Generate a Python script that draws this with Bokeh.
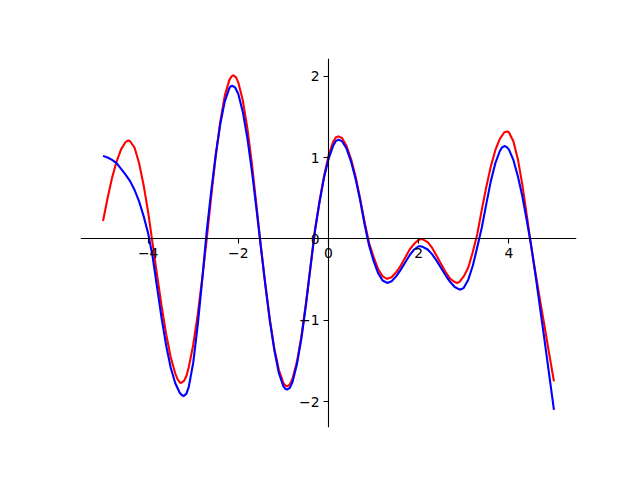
from bokeh.plotting import figure
from bokeh.models import Range1d, FixedTicker
from bokeh.embed import file_html
from bokeh.resources import INLINE

# Red curve
red_x = [-5.0, -4.9, -4.8, -4.7, -4.6, -4.5, -4.44, -4.4, -4.3, -4.2, -4.1, -4.0,
         -3.9, -3.8, -3.7, -3.6, -3.5, -3.4, -3.35, -3.3, -3.27, -3.2, -3.15, -3.1, -3.0,
         -2.9, -2.8, -2.7, -2.6, -2.5, -2.4, -2.3, -2.2, -2.15, -2.11, -2.05, -2.0,
         -1.9, -1.8, -1.7, -1.6, -1.5, -1.4, -1.3, -1.2, -1.1, -1.0, -0.96, -0.92, -0.86,
         -0.8, -0.7, -0.6, -0.5, -0.4, -0.3, -0.2, -0.1, 0.0, 0.1, 0.16, 0.22,
         0.3, 0.4, 0.5, 0.6, 0.7, 0.8, 0.9, 1.0, 1.1, 1.2, 1.3,
         1.4, 1.5, 1.6, 1.7, 1.8, 1.9, 2.0, 2.07, 2.2, 2.3, 2.4, 2.5,
         2.6, 2.7, 2.8, 2.85, 2.9, 3.0, 3.1, 3.2, 3.3, 3.4, 3.5, 3.6,
         3.7, 3.8, 3.9, 3.96, 4.0, 4.1, 4.2, 4.3, 4.4, 4.5, 4.6, 4.7,
         4.8, 4.9, 5.0]
red_y = [0.22, 0.50, 0.75, 0.95, 1.10, 1.19, 1.21, 1.20, 1.12, 0.93, 0.66, 0.33,
         -0.06, -0.45, -0.83, -1.17, -1.45, -1.65, -1.72, -1.76, -1.77, -1.74, -1.68, -1.58, -1.30,
         -0.93, -0.48, 0.0, 0.53, 1.02, 1.44, 1.76, 1.95, 1.995, 2.01, 1.985, 1.92,
         1.70, 1.36, 0.93, 0.42, -0.09, -0.56, -0.99, -1.35, -1.61, -1.77, -1.80, -1.81, -1.79,
         -1.72, -1.51, -1.19, -0.79, -0.34, 0.11, 0.46, 0.77, 1.02, 1.19, 1.245, 1.26,
         1.24, 1.14, 0.98, 0.77, 0.50, 0.21, -0.05, -0.22, -0.37, -0.46, -0.49,
         -0.47, -0.41, -0.33, -0.23, -0.13, -0.06, -0.01, 0.0, -0.04, -0.11, -0.21, -0.31,
         -0.41, -0.49, -0.53, -0.54, -0.53, -0.46, -0.35, -0.16, 0.06, 0.36, 0.64, 0.89,
         1.09, 1.23, 1.31, 1.32, 1.31, 1.20, 0.98, 0.66, 0.28, -0.11, -0.45, -0.78,
         -1.10, -1.43, -1.75]

# Blue curve
blue_x = [-5.0, -4.9, -4.8, -4.7, -4.6, -4.5, -4.4, -4.3, -4.2, -4.1, -4.0,
          -3.9, -3.8, -3.7, -3.6, -3.5, -3.4, -3.3, -3.25, -3.21, -3.15, -3.1, -3.0,
          -2.9, -2.8, -2.7, -2.6, -2.5, -2.4, -2.3, -2.2, -2.17, -2.13, -2.07, -2.0,
          -1.9, -1.8, -1.7, -1.6, -1.5, -1.4, -1.3, -1.2, -1.1, -1.0, -0.96, -0.92, -0.86,
          -0.8, -0.7, -0.6, -0.5, -0.4, -0.3, -0.2, -0.1, 0.0, 0.1, 0.16, 0.22,
          0.3, 0.4, 0.5, 0.6, 0.7, 0.8, 0.9, 1.0, 1.1, 1.2, 1.3,
          1.4, 1.5, 1.6, 1.7, 1.8, 1.9, 2.0, 2.04, 2.1, 2.2, 2.3, 2.4, 2.5,
          2.6, 2.7, 2.8, 2.9, 2.94, 3.0, 3.1, 3.2, 3.3, 3.4, 3.5, 3.6,
          3.7, 3.8, 3.85, 3.9, 3.95, 4.0, 4.1, 4.2, 4.3, 4.4, 4.5, 4.6, 4.7,
          4.8, 4.9, 5.0]
blue_y = [1.02, 1.00, 0.97, 0.93, 0.86, 0.79, 0.71, 0.60, 0.46, 0.28, 0.07,
          -0.22, -0.60, -0.98, -1.31, -1.58, -1.77, -1.89, -1.92, -1.93, -1.90, -1.82, -1.52,
          -1.06, -0.50, 0.10, 0.59, 1.04, 1.41, 1.69, 1.85, 1.875, 1.88, 1.86, 1.78,
          1.56, 1.24, 0.84, 0.38, -0.10, -0.57, -1.01, -1.37, -1.65, -1.81, -1.84, -1.85, -1.83,
          -1.76, -1.54, -1.22, -0.81, -0.35, 0.10, 0.45, 0.75, 0.98, 1.14, 1.20, 1.22,
          1.20, 1.11, 0.95, 0.74, 0.48, 0.18, -0.08, -0.27, -0.42, -0.51, -0.54,
          -0.52, -0.46, -0.38, -0.29, -0.20, -0.13, -0.09, -0.09, -0.10, -0.13, -0.19, -0.27, -0.36,
          -0.45, -0.53, -0.59, -0.62, -0.62, -0.60, -0.50, -0.33, -0.10, 0.14, 0.43, 0.71,
          0.93, 1.08, 1.125, 1.14, 1.13, 1.10, 0.97, 0.77, 0.52, 0.22, -0.10, -0.48, -0.88,
          -1.28, -1.69, -2.10]

x_ticks = [-4, -2, 0, 2, 4]
y_ticks = [-2, -1, 0, 1, 2]

p = figure(width=624, height=464, frame_width=496, frame_height=369,
           min_border_left=80, min_border_right=48, min_border_top=58, min_border_bottom=37,
           x_range=Range1d(-5.5, 5.5), y_range=Range1d(-2.316, 2.216),
           output_backend="svg", toolbar_location=None)
p.outline_line_color = None
p.grid.visible = False
p.background_fill_color = "white"
p.border_fill_color = "white"

p.line(red_x, red_y, line_color="red", line_width=2.1, line_join="round")
p.line(blue_x, blue_y, line_color="blue", line_width=2.1, line_join="round")

for ax in (p.xaxis[0], p.yaxis[0]):
    ax.fixed_location = 0
    ax.axis_line_color = "black"
    ax.axis_line_width = 1.1
    ax.major_tick_line_color = "black"
    ax.major_tick_line_width = 1.1
    ax.major_tick_out = 5
    ax.major_tick_in = 0
    ax.minor_tick_line_color = None
    ax.major_label_text_font = "DejaVu Sans"
    ax.major_label_text_font_size = "13.9px"
    ax.major_label_text_color = "black"
    ax.major_label_standoff = 4

p.xaxis[0].ticker = FixedTicker(ticks=x_ticks)
p.yaxis[0].ticker = FixedTicker(ticks=y_ticks)
p.xaxis[0].major_label_overrides = {-4: "\u22124", -2: "\u22122", 0: "0", 2: "2", 4: "4"}
p.yaxis[0].major_label_overrides = {-2: "\u22122", -1: "\u22121", 0: "0", 1: "1", 2: "2"}

open("out.html", "w").write(file_html(p, INLINE))
